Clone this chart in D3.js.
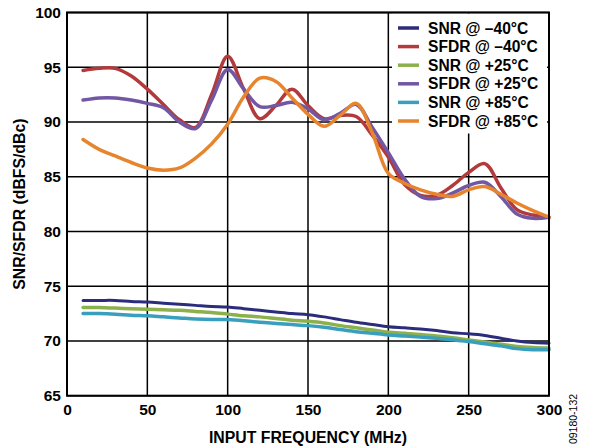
<!DOCTYPE html>
<html><head><meta charset="utf-8">
<script src="https://cdn.jsdelivr.net/npm/d3@7"></script>
<style>body{margin:0;background:#fff}svg{display:block}</style>
</head><body>
<svg id="c" width="591" height="448"></svg>
<script>
const freq = [10,20,30,40,50,60,70,80,90,100,110,120,130,140,150,160,170,180,190,200,210,220,230,240,250,260,270,280,290,300];
const snrM40  = [73.7,73.7,73.7,73.6,73.55,73.45,73.35,73.25,73.15,73.1,72.95,72.8,72.65,72.5,72.4,72.2,71.95,71.7,71.5,71.3,71.2,71.1,70.95,70.75,70.65,70.5,70.25,70.0,69.85,69.8];
const sfdrM40 = [94.7,94.9,94.9,94.2,93.0,91.6,90.2,89.5,92.5,96.0,93.0,90.3,91.5,93.0,91.5,90.3,90.6,90.5,88.8,86.8,84.3,83.3,83.3,84.2,85.4,86.2,84.0,82.0,81.5,81.3];
const snrP25  = [73.05,73.05,73.0,72.95,72.9,72.85,72.8,72.7,72.6,72.45,72.3,72.2,72.05,71.9,71.8,71.65,71.4,71.2,71.0,70.8,70.7,70.6,70.45,70.3,70.1,69.9,69.7,69.5,69.4,69.35];
const sfdrP25 = [92.0,92.2,92.2,92.0,91.7,91.3,90.0,89.4,92.0,94.8,93.0,91.4,91.5,91.8,91.2,90.2,90.8,91.6,89.5,87.2,84.8,83.2,83.0,83.5,84.2,84.5,83.2,81.6,81.2,81.3];
const snrP85  = [72.5,72.5,72.45,72.35,72.3,72.2,72.1,72.0,71.95,71.95,71.85,71.7,71.6,71.5,71.4,71.25,71.05,70.85,70.7,70.55,70.45,70.35,70.25,70.1,69.95,69.75,69.55,69.3,69.2,69.2];
const sfdrP85 = [88.4,87.5,86.9,86.3,85.8,85.6,85.8,86.7,88.0,89.8,92.3,94.0,93.7,92.2,90.7,89.6,90.6,91.7,89.0,85.3,84.4,83.8,83.4,83.2,83.8,84.1,83.4,82.6,81.9,81.3];
const seriesNames = ["SNR @ \u201340\u00B0C","SFDR @ \u201340\u00B0C","SNR @ +25\u00B0C","SFDR @ +25\u00B0C","SNR @ +85\u00B0C","SFDR @ +85\u00B0C"];
const seriesValues = [snrM40,sfdrM40,snrP25,sfdrP25,snrP85,sfdrP85];
const seriesColors = ["#2b2d7c","#b23a3c","#8cb04b","#7257a3","#3a9fbd","#e6852e"];
const seriesWidths = [3,3.5,3.5,3.5,3.5,3.5];
const xTicks = [0,50,100,150,200,250,300];
const yTicks = [65,70,75,80,85,90,95,100];

const svg = d3.select("#c");
const L=67, R=549, T=12.5, B=395.7;
const x = d3.scaleLinear().domain([0,300]).range([L,R]);
const y = d3.scaleLinear().domain([65,100]).range([B,T]);
const font = "Arial, 'Liberation Sans', sans-serif";

// grid
const g = svg.append("g");
g.selectAll(".vx").data(xTicks).enter().append("line")
  .attr("x1",d=>x(d)).attr("x2",d=>x(d)).attr("y1",T).attr("y2",B)
  .attr("stroke","#000").attr("stroke-width",1.5);
g.selectAll(".hy").data(yTicks).enter().append("line")
  .attr("y1",d=>y(d)).attr("y2",d=>y(d)).attr("x1",L).attr("x2",R)
  .attr("stroke","#000").attr("stroke-width",1.5);

// axes labels
const xa = svg.append("g").attr("transform",`translate(0,${B})`).call(d3.axisBottom(x).tickValues(xTicks).tickSize(0).tickPadding(8));
xa.select(".domain").remove();
xa.selectAll("text").attr("font-family",font).attr("font-weight","bold").attr("font-size",15.5).attr("fill","#000");
const ya = svg.append("g").attr("transform",`translate(${L},0)`).call(d3.axisLeft(y).tickValues(yTicks).tickSize(0).tickPadding(6));
ya.select(".domain").remove();
ya.selectAll("text").attr("font-family",font).attr("font-weight","bold").attr("font-size",15.5).attr("fill","#000");

// legend background
svg.append("rect").attr("x",392).attr("y",T+1).attr("width",155).attr("height",120).attr("fill","#fff");

// lines
const line = d3.line().x((d,i)=>x(freq[i])).y(d=>y(d)).curve(d3.curveCatmullRom.alpha(0.5));
const order=[0,2,4,1,3,5];
order.forEach(k=>{
  svg.append("path").attr("d",line(seriesValues[k])).attr("fill","none")
    .attr("stroke",seriesColors[k]).attr("stroke-width",seriesWidths[k])
    .attr("stroke-linejoin","round").attr("stroke-linecap","round");
});

// border
svg.append("rect").attr("x",L).attr("y",T).attr("width",R-L).attr("height",B-T)
  .attr("fill","none").attr("stroke","#000").attr("stroke-width",2);

// legend
const lg = svg.append("g");
seriesNames.forEach((n,i)=>{
  const yy = 28 + i*18.6;
  lg.append("line").attr("x1",398).attr("x2",419).attr("y1",yy).attr("y2",yy)
    .attr("stroke",seriesColors[i]).attr("stroke-width",3.5);
  lg.append("text").attr("x",428).attr("y",yy).attr("dy","0.36em")
    .attr("font-family",font).attr("font-weight","bold").attr("font-size",15.6).text(n);
});

// titles
svg.append("text").attr("x",(L+R)/2).attr("y",443).attr("text-anchor","middle")
  .attr("font-family",font).attr("font-weight","bold").attr("font-size",15.8).text("INPUT FREQUENCY (MHz)");
svg.append("text").attr("transform",`translate(25,${(T+B)/2}) rotate(-90)`).attr("text-anchor","middle")
  .attr("font-family",font).attr("font-weight","bold").attr("font-size",15.8).text("SNR/SFDR (dBFS/dBc)");
svg.append("text").attr("transform",`translate(577,419) rotate(-90)`).attr("text-anchor","middle")
  .attr("font-family",font).attr("font-size",10.5).text("09180-132");
</script>
</body></html>
